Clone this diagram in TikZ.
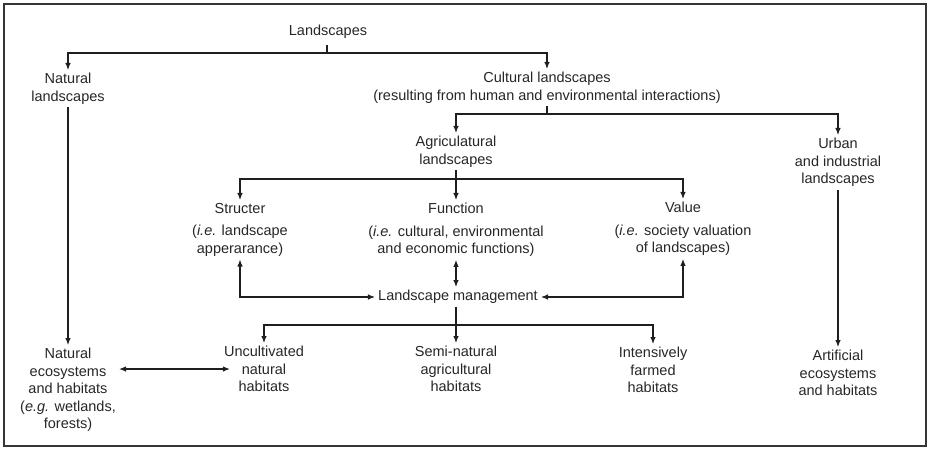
\documentclass[tikz,border=0pt]{standalone}
\usepackage{fontspec}
\setmainfont{Liberation Sans}
\usetikzlibrary{arrows.meta}
\definecolor{ink}{rgb}{0.15,0.15,0.15}
\definecolor{wire}{rgb}{0.12,0.12,0.12}
\begin{document}
\begin{tikzpicture}[x=1pt,y=-1pt,
  lbl/.style={align=center,inner sep=3pt,anchor=north,text=ink,
              font=\fontsize{14.5}{17.5}\selectfont},
  wirestyle/.style={draw=wire,line width=1.1pt},
  arr/.style={wirestyle,-{Latex[length=7pt,width=5.5pt]}},
  darr/.style={wirestyle,{Latex[length=7pt,width=5.5pt]}-{Latex[length=7pt,width=5.5pt]}}]
\useasboundingbox (0,0) rectangle (929,449);
\draw[draw=wire!90,line width=1.3pt] (4,4) rectangle (926,446);

% nodes
\node[lbl] (land)   at (328,22)  {Landscapes};
\node[lbl] (nat)    at (68,70)   {Natural\\landscapes};
\node[lbl] (cult)   at (547,69)  {Cultural landscapes\\(resulting from human and environmental interactions)};
\node[lbl] (agri)   at (456,133) {Agriculatural\\landscapes};
\node[lbl] (urban)  at (838,135) {Urban\\and industrial\\landscapes};
\node[lbl] (struct) at (240,200) {Structer\\[5pt](\textit{i.e.} landscape\\apperarance)};
\node[lbl] (func)   at (456,200) {Function\\[5pt](\textit{i.e.} cultural, environmental\\and economic functions)};
\node[lbl] (value)  at (683,199) {Value\\[5pt](\textit{i.e.} society valuation\\of landscapes)};
\node[lbl,anchor=center] (lm) at (458,297) {Landscape management};
\node[lbl] (nateco) at (68,345)  {Natural\\ecosystems\\and habitats\\(\textit{e.g.} wetlands,\\forests)};
\node[lbl] (unc)    at (264,343) {Uncultivated\\natural\\habitats};
\node[lbl] (semi)   at (456,343) {Semi-natural\\agricultural\\habitats};
\node[lbl] (inten)  at (653,344) {Intensively\\farmed\\habitats};
\node[lbl] (art)    at (838,347) {Artificial\\ecosystems\\and habitats};

% branch points
\coordinate (b1) at (327,53);
\coordinate (b2) at (547,114);
\coordinate (b3) at (456,179);
\coordinate (b4) at (456,325);

% connectors
\draw[wirestyle] ([yshift=-3pt]land.south -| b1) -- (b1);
\draw[arr] (b1) -| (nat.north);
\draw[arr] (b1) -| (cult.north);

\draw[arr] (nat.south) -- (nateco.north);

\draw[wirestyle] (cult.south -| b2) -- (b2);
\draw[arr] (b2) -| (agri.north);
\draw[arr] (b2) -| (urban.north);

\draw[arr] (urban.south) -- (art.north);

\draw[wirestyle] (agri.south) -- (b3);
\draw[arr] (b3) -| (struct.north);
\draw[arr] (b3) -- (func.north);
\draw[arr] (b3) -| (value.north);

\draw[darr] (struct.south) |- (lm.west);
\draw[darr] (value.south) |- (lm.east);
\draw[darr] (func.south) -- (func.south |- lm.north);

\draw[wirestyle] (lm.south -| b4) -- (b4);
\draw[arr] (b4) -| (unc.north);
\draw[arr] (b4) -- (semi.north);
\draw[arr] (b4) -| (inten.north);

\draw[darr] (nateco.east |- unc.center) -- ([xshift=9pt]unc.west);
\end{tikzpicture}
\end{document}
